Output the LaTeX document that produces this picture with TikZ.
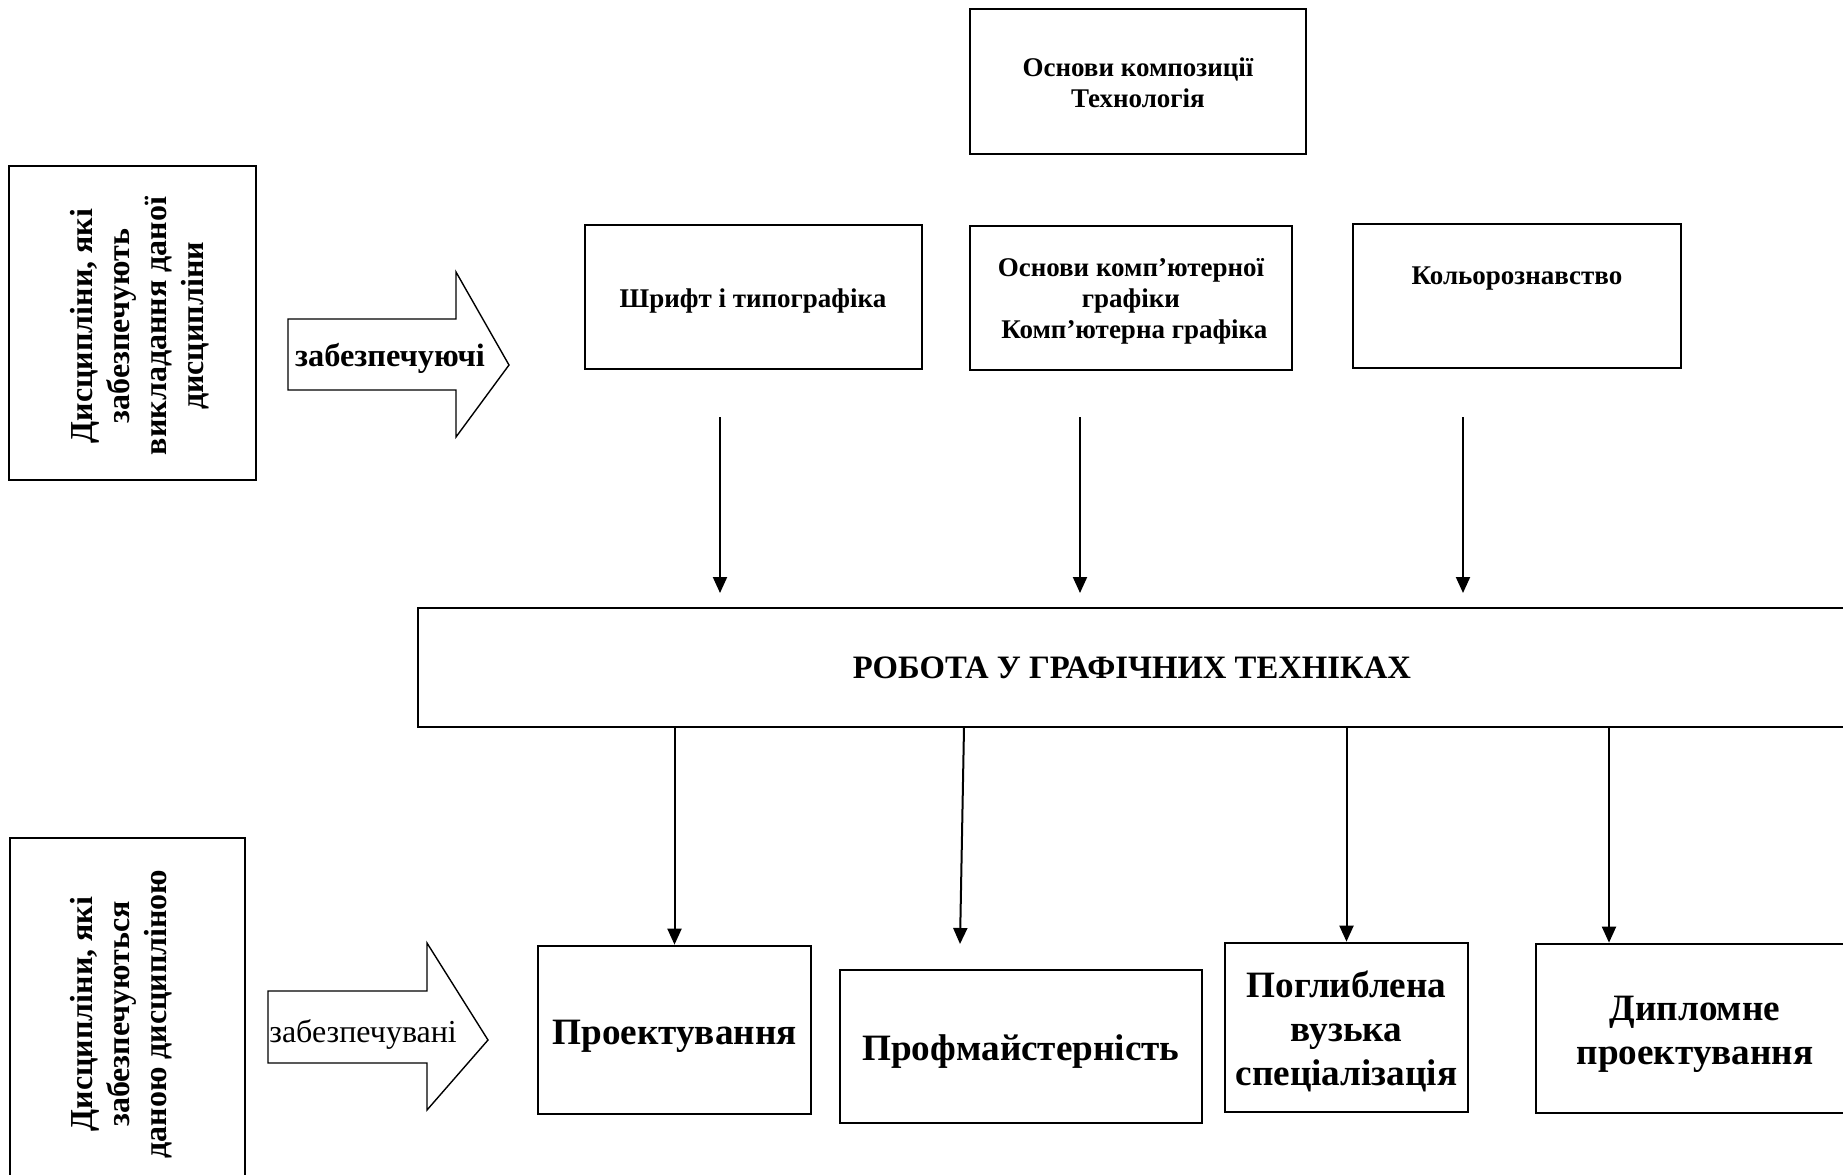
\documentclass[tikz,border=0pt]{standalone}
\usepackage{fontspec}
\setmainfont{Liberation Serif}
\usetikzlibrary{arrows.meta}
\begin{document}
\begin{tikzpicture}[x=0.5pt,y=-0.5pt,
  box/.style={draw, line width=1.35pt, inner sep=0pt, align=center},
  small/.style={font=\bfseries\fontsize{13.5pt}{15.5pt}\selectfont, align=center, inner sep=0pt},
  big/.style={font=\bfseries\fontsize{18.6pt}{22pt}\selectfont, align=center, inner sep=0pt},
  side/.style={font=\bfseries\fontsize{16pt}{18.5pt}\selectfont, align=center, inner sep=0pt, rotate=90},
  arr/.style={line width=1pt, -{Triangle[length=8pt,width=7pt]}},
  blk/.style={draw, line width=0.7pt, line join=miter},
]
\useasboundingbox (0,0) rectangle (1843,1174);
\clip (0,0) rectangle (1843,1174);

% top box
\node[box, minimum width=168pt, minimum height=72.5pt] (top) at (1138,81.5) {};
\node[small] (topt) at (1138,82.5) {Основи композиції\\Технологія};

% left boxes
\node[box, minimum width=123.5pt, minimum height=157pt] (tl) at (132.5,323) {};
\node[side] (tlt) at (140,326) {Дисципліни, які\\забезпечують\\викладання даної\\дисципліни};
\node[box, minimum width=117.5pt, minimum height=176pt] (bl) at (127.5,1014) {};
\node[side] (blt) at (121,1014) {Дисципліни, які\\забезпечуються\\даною дисципліною};

% block arrows
\draw[blk] (288,319) -- (456,319) -- (456,272) -- (509,365) -- (456,437) -- (456,390) -- (288,390) -- cycle;
\node[font=\bfseries\fontsize{16.2pt}{18pt}\selectfont, inner sep=0pt] (zb1) at (390,358) {забезпечуючі};
\draw[blk] (268,991) -- (427,991) -- (427,943) -- (488,1040) -- (427,1110) -- (427,1063) -- (268,1063) -- cycle;
\node[font=\fontsize{16pt}{18pt}\selectfont, inner sep=0pt, anchor=west] (zb2) at (269,1034) {забезпечувані};

% second row
\node[box, minimum width=168.5pt, minimum height=72pt] (shrift) at (753.5,297) {};
\node[small] (shriftt) at (753,300.5) {Шрифт і типографіка};
\node[box, minimum width=161pt, minimum height=72pt] (comp) at (1131,298) {};
\node[small] (compt) at (1131,301.5) {Основи комп’ютерної\\графіки\\\ Комп’ютерна графіка};
\node[box, minimum width=164pt, minimum height=72pt] (kol) at (1517,296) {};
\node[small] (kolt) at (1517,279) {Кольорознавство};

% central box
\node[box, font=\bfseries\fontsize{16.35pt}{18pt}\selectfont, minimum width=714pt, minimum height=59.5pt] (rob) at (1132,667.5) {РОБОТА У ГРАФІЧНИХ ТЕХНІКАХ};

% arrows to central box
\coordinate (s1) at (720,417); \coordinate (e1) at (720,593);
\coordinate (s2) at (1080,417); \coordinate (e2) at (1080,593);
\coordinate (s3) at (1463,417); \coordinate (e3) at (1463,593);
\draw[arr] (s1) -- (e1);
\draw[arr] (s2) -- (e2);
\draw[arr] (s3) -- (e3);

% bottom row
\node[box, minimum width=136.5pt, minimum height=84pt] (proekt) at (674.5,1030) {};
\node[big] (proektt) at (674.5,1036) {Проектування};
\node[box, minimum width=181pt, minimum height=76.5pt] (prof) at (1021,1046.5) {};
\node[big] (proft) at (1021,1052) {Профмайстерність};
\node[box, minimum width=121.5pt, minimum height=84.5pt] (pogl) at (1346.5,1027.5) {};
\node[big] (poglt) at (1346.5,1031) {Поглиблена\\вузька\\спеціалізація};
\node[box, minimum width=159pt, minimum height=84.5pt] (dypl) at (1695,1028.5) {};
\node[big] (dyplt) at (1695,1034) {Дипломне\\проектування};

% arrows from central box
\draw[arr] (rob.south -| proekt.north) -- (proekt.north);
\coordinate (s5) at (964,727.5); \coordinate (e5) at (960,944);
\draw[arr] (s5) -- (e5);
\draw[arr] (rob.south -| pogl.north) -- (pogl.north);
\coordinate (s7) at (1609,727.5);
\draw[arr] (s7) -- (s7 |- dypl.north);
\end{tikzpicture}
\end{document}
